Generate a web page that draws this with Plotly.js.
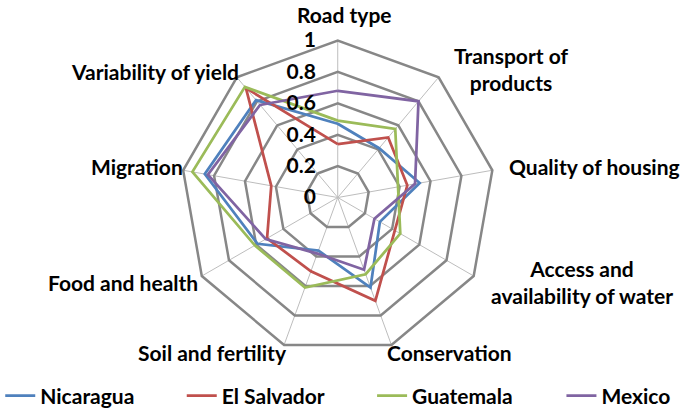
<!DOCTYPE html>
<html>
<head>
<meta charset="utf-8">
<script src="https://cdn.plot.ly/plotly-3.0.1.min.js"></script>
<style>html,body{margin:0;padding:0;background:#fff;}#chart{width:688px;height:417px;}</style>
</head>
<body>
<div id="chart"></div>
<script>
const categories = ["Road type", "Transport of products", "Quality of housing", "Access and availability of water", "Conservation", "Soil and fertility", "Food and health", "Migration", "Variability of yield"];
const nicaragua  = [0.47, 0.41, 0.53, 0.31, 0.61, 0.36, 0.59, 0.86, 0.81];
const elSalvador = [0.34, 0.50, 0.45, 0.42, 0.70, 0.50, 0.52, 0.43, 0.91];
const guatemala  = [0.49, 0.57, 0.39, 0.46, 0.52, 0.61, 0.61, 0.94, 0.92];
const mexico     = [0.68, 0.80, 0.50, 0.27, 0.49, 0.38, 0.53, 0.84, 0.77];
const seriesNames = ["Nicaragua", "El Salvador", "Guatemala", "Mexico"];
const seriesColors = ["#4F81BD", "#C0504D", "#9BBB59", "#8064A2"];

const W = 688, H = 417;
const F = "Lato, 'Open Sans', sans-serif";
const allSeries = [nicaragua, elSalvador, guatemala, mexico];
const legendIds = ["legend", "legend2", "legend3", "legend4"];
const close = a => a.concat([a[0]]);
const traces = allSeries.map((vals, i) => ({
  type: "scatterpolar",
  mode: "lines",
  r: close(vals),
  theta: close(categories),
  name: seriesNames[i],
  legend: legendIds[i],
  line: {color: seriesColors[i], width: 2.75},
  hoverinfo: "skip"
}));

// label placement (pixel centres) for the category labels, wrapped like the reference
const labelPos = [[338, 15], [508, 69], [593, 167], [580, 283], [445, 353], [203, 353], [112, 283], [126, 167], [145, 72]];
const labelWrap = {"Transport of products": "Transport of<br>products", "Access and availability of water": "Access and<br>availability of water"};
const annotations = categories.map((c, i) => ({
  text: labelWrap[c] || c, xref: "paper", yref: "paper",
  x: labelPos[i][0] / W, y: 1 - labelPos[i][1] / H,
  xanchor: "center", yanchor: "middle", showarrow: false, align: "center",
  font: {family: F, size: 21, weight: "bold", color: "#000"}
}));

const legendX = [-13, 172, 366, 559];
const legendFont = {family: F, size: 21, weight: "bold", color: "#000"};
const layout = {
  width: W, height: H,
  margin: {l: 0, r: 0, t: 0, b: 0},
  paper_bgcolor: "#fff",
  showlegend: true,
  annotations: annotations,
  polar: {
    domain: {x: [171 / W, 491 / W], y: [0.1415, 0.9089]},
    gridshape: "linear",
    bgcolor: "#fff",
    radialaxis: {
      range: [0, 1], dtick: 0.2, tick0: 0, angle: 90, side: "counterclockwise",
      tickangle: 90,
      showline: false, gridcolor: "#878787", gridwidth: 2.5,
      ticks: "outside", ticklen: 14, tickcolor: "rgba(0,0,0,0)",
      tickfont: {family: F, size: 21, weight: "bold", color: "#000"}
    },
    angularaxis: {
      type: "category", rotation: 90, direction: "clockwise",
      showline: true, linecolor: "#878787", linewidth: 2.5,
      gridcolor: "#BDBDBD", gridwidth: 1, ticks: "", showticklabels: false
    }
  }
};
legendIds.forEach((id, i) => {
  layout[id] = {orientation: "h", x: legendX[i] / W, y: 1 - 397 / H, xanchor: "left", yanchor: "middle",
                bgcolor: "rgba(0,0,0,0)", itemwidth: 30, font: legendFont};
});
Plotly.newPlot("chart", traces, layout, {staticPlot: true});
</script>
</body>
</html>
